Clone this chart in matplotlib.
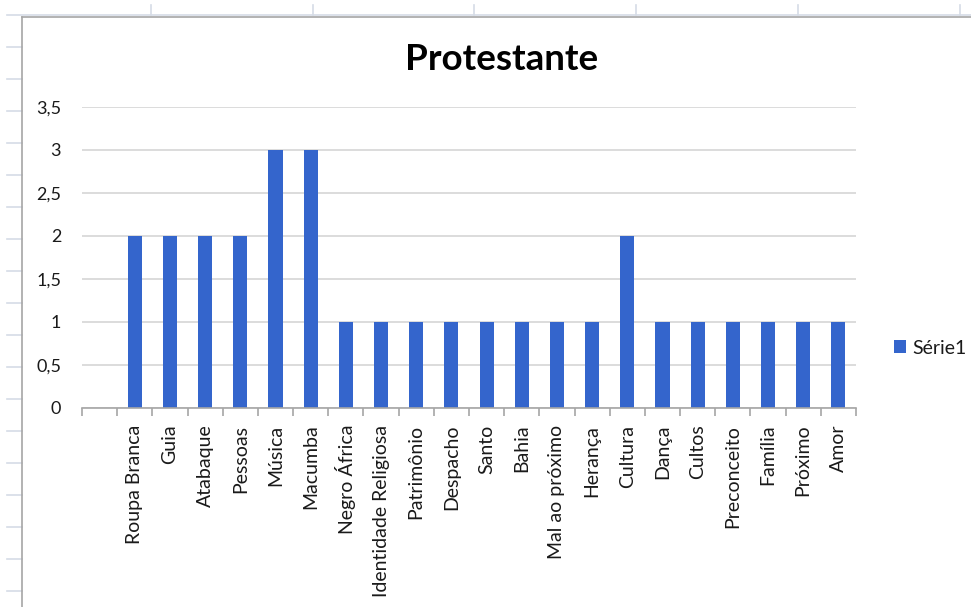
import matplotlib
matplotlib.use("Agg")
import matplotlib.pyplot as plt
from matplotlib.lines import Line2D
import numpy as np

categories = ["Roupa Branca", "Guia", "Atabaque", "Pessoas", "Música", "Macumba",
              "Negro África", "Identidade Religiosa", "Patrimônio", "Despacho", "Santo",
              "Bahia", "Mal ao próximo", "Herança", "Cultura", "Dança", "Cultos",
              "Preconceito", "Família", "Próximo", "Amor"]
values = [2, 2, 2, 2, 3, 3, 1, 1, 1, 1, 1, 1, 1, 1, 2, 1, 1, 1, 1, 1, 1]
y_ticks = [0, 0.5, 1, 1.5, 2, 2.5, 3, 3.5]
y_tick_labels = ["0", "0,5", "1", "1,5", "2", "2,5", "3", "3,5"]
title = "Protestante"
series_name = "Série1"

W, H = 971, 607
plt.rcParams['font.family'] = ['Lato', 'DejaVu Sans']
fig = plt.figure(figsize=(W / 100, H / 100), dpi=100)
fig.patch.set_facecolor("white")

def fx(x):
    return x / W

def fy(y):
    return 1 - y / H

# spreadsheet background grid (outside chart area)
grid_col = "#d5dce6"
fig.add_artist(Line2D([fx(7), fx(W)], [fy(15), fy(15)], color=grid_col, lw=1.2))
for vx in [151, 313, 474, 636, 798, 960]:
    fig.add_artist(Line2D([fx(vx), fx(vx)], [fy(5), fy(15)], color=grid_col, lw=1.2))
for hy in range(47, H, 32):
    fig.add_artist(Line2D([fx(7), fx(22)], [fy(hy), fy(hy)], color=grid_col, lw=1.2))

# chart area border
border_col = "#a6a6a6"
fig.add_artist(Line2D([fx(22), fx(22)], [fy(17), fy(H)], color=border_col, lw=1.2))
fig.add_artist(Line2D([fx(22), fx(W)], [fy(17), fy(17)], color=border_col, lw=1.2))

# plot area
left, right, top, bottom = 82, 856, 107, 408
ax = fig.add_axes([fx(left), fy(bottom), fx(right - left), (bottom - top) / H])
ax.set_facecolor("none")

x = np.arange(len(categories))
ax.bar(x, values, width=0.4, color="#3465cc", label=series_name, zorder=3)

ax.set_xlim(-1.5, len(categories) - 0.5)
ax.set_ylim(0, 3.5)
ax.set_yticks(y_ticks)
ax.set_yticklabels(y_tick_labels)
ax.yaxis.grid(True, color="#d9d9d9", lw=1.3, zorder=0)
ax.tick_params(axis="y", length=0, pad=15, labelsize=13, colors="#1a1a1a")

ax.set_xticks(x)
ax.set_xticklabels(categories, rotation=90, fontsize=14, color="#1a1a1a")
ax.set_xticks(np.arange(-1.5, len(categories), 1.0), minor=True)
ax.tick_params(axis="x", which="major", length=0, pad=12)
ax.tick_params(axis="x", which="minor", length=6, width=1.2, color="#a6a6a6", direction="out")

for s in ["top", "right", "left"]:
    ax.spines[s].set_visible(False)
ax.spines["bottom"].set_color("#a6a6a6")
ax.spines["bottom"].set_linewidth(1.2)
ax.spines["bottom"].set_zorder(4)

fig.text(fx(502), fy(70), title, ha="center", va="baseline", fontsize=26.5,
         fontweight="bold", color="#000000")

leg = ax.legend(loc="center left", bbox_to_anchor=(fx(876), fy(348)),
                bbox_transform=fig.transFigure, frameon=False, fontsize=14,
                handlelength=0.65, handleheight=0.65, handletextpad=0.3)
for t in leg.get_texts():
    t.set_color("#1a1a1a")

fig.savefig("out.png", dpi=100)
